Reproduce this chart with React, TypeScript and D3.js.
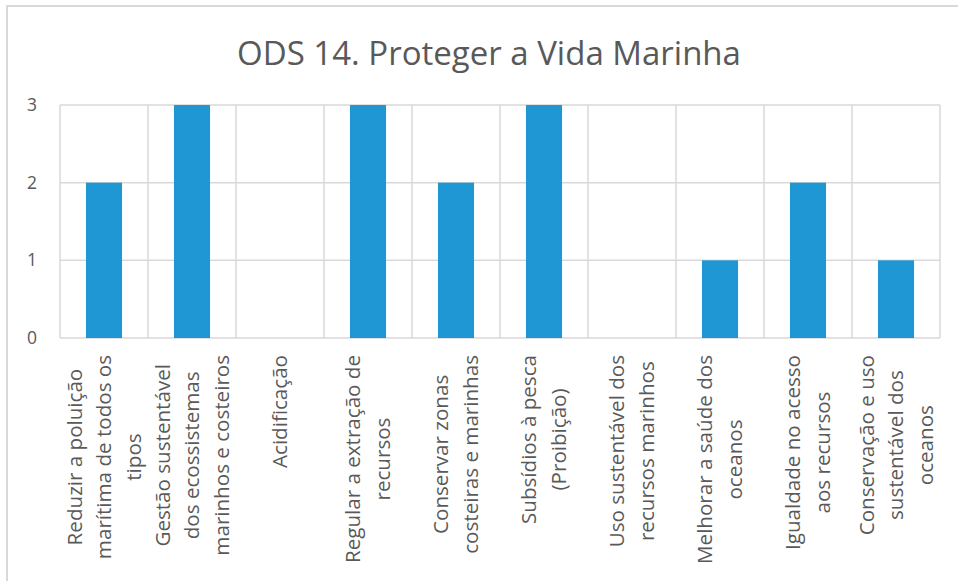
import React, { useRef, useEffect } from "react";
import * as d3 from "d3";

const title = "ODS 14. Proteger a Vida Marinha";

const categories = [
  "Reduzir a poluição marítima de todos os tipos",
  "Gestão sustentável dos ecossistemas marinhos e costeiros",
  "Acidificação",
  "Regular a extração de recursos",
  "Conservar zonas costeiras e marinhas",
  "Subsídios à pesca (Proibição)",
  "Uso sustentável dos recursos marinhos",
  "Melhorar a saúde dos oceanos",
  "Igualdade no acesso aos recursos",
  "Conservação e uso sustentável dos oceanos",
];

// how the labels wrap in the picture
const labelLines = [
  ["Reduzir a poluição", "marítima de todos os", "tipos"],
  ["Gestão sustentável", "dos ecossistemas", "marinhos e costeiros"],
  ["Acidificação"],
  ["Regular a extração de", "recursos"],
  ["Conservar zonas", "costeiras e marinhas"],
  ["Subsídios à pesca", "(Proibição)"],
  ["Uso sustentável dos", "recursos marinhos"],
  ["Melhorar a saúde dos", "oceanos"],
  ["Igualdade no acesso", "aos recursos"],
  ["Conservação e uso", "sustentável dos", "oceanos"],
];

const values = [2, 3, 0, 3, 2, 3, 0, 1, 2, 1];

const yTicks = [0, 1, 2, 3];

const FONT = "'Open Sans', sans-serif";
const TEXT = "#595959";
const GRID = "#d9d9d9";
const BAR = "#1f97d4";

const App = () => {
  const ref = useRef<SVGSVGElement>(null);

  useEffect(() => {
    const svg = d3.select(ref.current);
    svg.selectAll("*").remove();

    const W = 958;
    const H = 581;
    const plot = { left: 60, right: 940, top: 105, bottom: 338 };

    // chart frame
    svg
      .append("rect")
      .attr("x", 7)
      .attr("y", 6)
      .attr("width", W + 20)
      .attr("height", H + 20)
      .attr("fill", "#fff")
      .attr("stroke", GRID)
      .attr("stroke-width", 2);

    svg
      .append("text")
      .attr("x", 489)
      .attr("y", 65)
      .attr("text-anchor", "middle")
      .attr("font-family", FONT)
      .attr("font-size", 33)
      .attr("fill", TEXT)
      .text(title);

    const x = d3
      .scaleBand()
      .domain(categories)
      .range([plot.left, plot.right])
      .paddingInner(0)
      .paddingOuter(0);
    const y = d3
      .scaleLinear()
      .domain([0, 3])
      .range([plot.bottom, plot.top]);

    const g = svg.append("g");

    // horizontal grid
    g.selectAll(".hgrid")
      .data(yTicks)
      .enter()
      .append("line")
      .attr("x1", plot.left)
      .attr("x2", plot.right)
      .attr("y1", (d) => y(d))
      .attr("y2", (d) => y(d))
      .attr("stroke", GRID)
      .attr("stroke-width", 1.5);

    // vertical grid at category edges
    const edges = categories.map((c) => x(c) as number).concat([plot.right]);
    g.selectAll(".vgrid")
      .data(edges)
      .enter()
      .append("line")
      .attr("x1", (d) => d)
      .attr("x2", (d) => d)
      .attr("y1", plot.top)
      .attr("y2", plot.bottom)
      .attr("stroke", GRID)
      .attr("stroke-width", 1.5);

    // y tick labels
    g.selectAll(".ytick")
      .data(yTicks)
      .enter()
      .append("text")
      .attr("x", 37)
      .attr("y", (d) => y(d))
      .attr("dy", "0.35em")
      .attr("text-anchor", "end")
      .attr("font-family", FONT)
      .attr("font-size", 17.5)
      .attr("fill", TEXT)
      .text((d) => d);

    // bars
    const bw = x.bandwidth() * 0.41;
    g.selectAll(".bar")
      .data(values)
      .enter()
      .append("rect")
      .attr("x", (d, i) => (x(categories[i]) as number) + (x.bandwidth() - bw) / 2)
      .attr("y", (d) => y(d))
      .attr("width", bw)
      .attr("height", (d) => y(0) - y(d))
      .attr("fill", BAR);

    // rotated category labels
    const lineGap = 29.5;
    const labelTop = 355;
    labelLines.forEach((lines, i) => {
      const cx = (x(categories[i]) as number) + x.bandwidth() / 2;
      const lg = g.append("g");
      const texts = lines.map((ln, j) => {
        const lx = cx + (j - (lines.length - 1) / 2) * lineGap;
        return lg
          .append("text")
          .attr("font-family", FONT)
          .attr("font-size", 20.6)
          .attr("fill", TEXT)
          .attr("text-anchor", "middle")
          .attr("dy", "0.35em")
          .attr("data-x", lx)
          .text(ln);
      });
      const lens = texts.map((t) => (t.node() as SVGTextElement).getComputedTextLength());
      const maxLen = d3.max(lens) as number;
      const cy = labelTop + maxLen / 2;
      texts.forEach((t) => {
        const lx = +t.attr("data-x");
        t.attr("transform", `translate(${lx},${cy}) rotate(-90)`);
      });
    });
  }, []);

  return (
    <svg
      ref={ref}
      width={958}
      height={581}
      style={{ position: "absolute", left: 0, top: 0, display: "block" }}
    />
  );
};

export default App;
